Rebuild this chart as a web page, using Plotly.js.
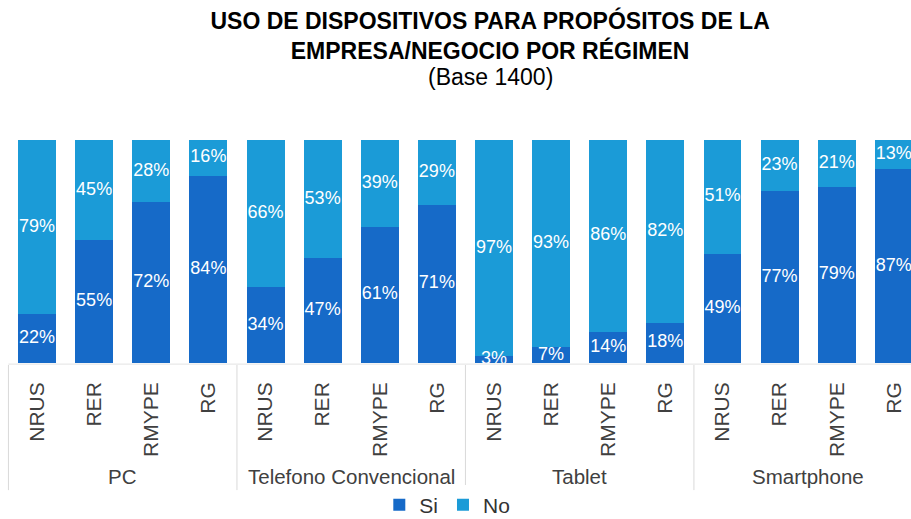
<!DOCTYPE html>
<html>
<head>
<meta charset="utf-8">
<script src="https://cdn.plot.ly/plotly-3.0.1.min.js"></script>
<style>html,body{margin:0;padding:0;background:#fff;}#chart{width:911px;height:519px;}</style>
</head>
<body>
<div id="chart"></div>
<script>
const groups = ['PC', 'Telefono Convencional', 'Tablet', 'Smartphone'];
const regimes = ['NRUS', 'RER', 'RMYPE', 'RG'];
const siValues = [22, 55, 72, 84, 34, 47, 61, 71, 3, 7, 14, 18, 49, 77, 79, 87];
const noValues = [79, 45, 28, 16, 66, 53, 39, 29, 97, 93, 86, 82, 51, 23, 21, 13];
const seriesNames = ['Si', 'No'];
const colors = ['#166AC8', '#1B9BD7'];

const tickLabels = [];
groups.forEach(() => regimes.forEach(r => tickLabels.push(r)));
const xIdx = tickLabels.map((_, i) => i);

const FONT = 'Liberation Sans, Arial, sans-serif';

function barTrace(name, vals, color) {
  return {
    type: 'bar', name: name, x: xIdx, y: vals,
    marker: {color: color, line: {width: 0}},
    hoverinfo: 'skip'
  };
}

// label positions: centre of each normalised (100%) segment
const totals = siValues.map((v, i) => v + noValues[i]);
const siShare = siValues.map((v, i) => v / totals[i] * 100);
const noShare = noValues.map((v, i) => v / totals[i] * 100);
const labelX = xIdx.concat(xIdx);
const labelY = siShare.map(s => s / 2).concat(noShare.map((n, i) => siShare[i] + n / 2));
const labelText = siValues.map(v => v + '%').concat(noValues.map(v => v + '%'));

const data = [
  barTrace(seriesNames[0], siValues, colors[0]),
  barTrace(seriesNames[1], noValues, colors[1]),
  {
    type: 'scatter', mode: 'text', x: labelX, y: labelY, text: labelText,
    textposition: 'middle center', textfont: {family: FONT, size: 18, color: '#ffffff'},
    showlegend: false, hoverinfo: 'skip', cliponaxis: false
  }
];

const groupSize = regimes.length;
const shapes = [];
for (let g = 0; g <= groups.length - 1; g++) {
  const xb = g * groupSize - 0.5;
  shapes.push({type: 'line', xref: 'x', yref: 'paper', x0: xb, x1: xb, y0: -0.009, y1: -0.57,
    line: {color: '#d9d9d9', width: 1}});
}
shapes.push({type: 'line', xref: 'x', yref: 'paper', x0: -0.5, x1: 15.6, y0: -0.005, y1: -0.005,
  line: {color: '#e3e3e3', width: 1}});

const annotations = groups.map((g, i) => ({
  text: g, xref: 'x', yref: 'paper', x: i * groupSize + (groupSize - 1) / 2, y: -0.511,
  xanchor: 'center', yanchor: 'middle', showarrow: false,
  font: {family: FONT, size: 20.5, color: '#404040'}
}));
annotations.push({
  text: '(Base 1400)', xref: 'paper', yref: 'paper', x: 0.538, y: (363 - 77) / 223,
  xanchor: 'center', yanchor: 'middle', showarrow: false,
  font: {family: FONT, size: 23, color: '#000000'}
});

const layout = {
  width: 911, height: 519,
  margin: {l: 0, r: 0, t: 140, b: 156},
  paper_bgcolor: '#ffffff', plot_bgcolor: '#ffffff',
  font: {family: FONT},
  title: {
    text: '<b>USO DE DISPOSITIVOS PARA PROPÓSITOS DE LA<br>EMPRESA/NEGOCIO POR RÉGIMEN</b>',
    x: 0.538, xanchor: 'center', xref: 'paper',
    y: 1 - 29 / 519, yanchor: 'top', yref: 'container',
    font: {family: FONT, size: 23, color: '#000000'}
  },
  barmode: 'stack', barnorm: 'percent', bargap: 0.335,
  xaxis: {
    range: [-0.648, 15.30], tickmode: 'array', tickvals: xIdx, ticktext: tickLabels,
    tickangle: -90, ticks: '', ticklabelstandoff: 14, showgrid: false, zeroline: false, showline: false,
    tickfont: {family: FONT, size: 21, color: '#404040'}, fixedrange: true
  },
  yaxis: {range: [0, 100], visible: false, fixedrange: true},
  showlegend: true,
  legend: {
    orientation: 'h', xref: 'container', yref: 'container',
    x: 0.491, xanchor: 'center', y: 1 - 505 / 519, yanchor: 'middle',
    font: {family: FONT, size: 21, color: '#333333'}, itemwidth: 30, traceorder: 'normal'
  },
  shapes: shapes,
  annotations: annotations
};

Plotly.newPlot('chart', data, layout, {staticPlot: true, displayModeBar: false});
</script>
</body>
</html>
